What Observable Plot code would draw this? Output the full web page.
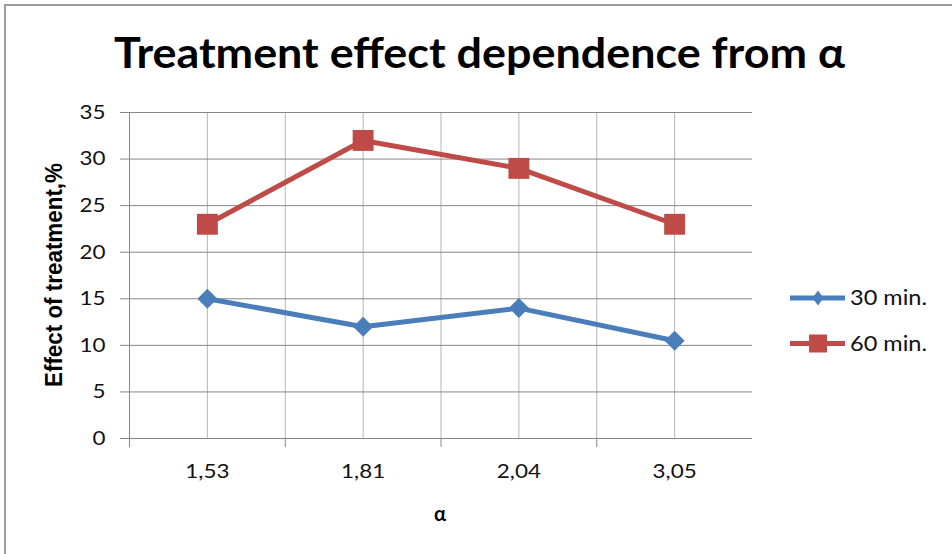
<!DOCTYPE html>
<html>
<head>
<meta charset="utf-8">
<script src="https://cdn.jsdelivr.net/npm/d3@7"></script>
<script src="https://cdn.jsdelivr.net/npm/@observablehq/plot@0.6"></script>
<style>
  body { margin: 0; background: #fff; }
  #chart { position: relative; width: 952px; height: 554px; overflow: hidden; background: #fff; font-family: Lato, "Open Sans", sans-serif; }
  #chart svg { position: absolute; left: 0; top: 0; }
  #frame { position: absolute; left: 4px; top: 4px; right: -4px; bottom: -4px; border-left: 2px solid #9c9c9c; border-top: 2px solid #9c9c9c; }
</style>
</head>
<body>
<div id="chart"><div id="frame"></div></div>
<script>
// Effect of treatment (%) for each value of alpha, at two exposure times
const alphaLabels = ["1,53", "1,81", "2,04", "3,05"];
const seriesNames = ["30 min.", "60 min."];
const effect30 = [15, 12, 14, 10.5];
const effect60 = [23, 32, 29, 23];
const yTicks = [0, 5, 10, 15, 20, 25, 30, 35];
const seriesColors = ["#4A7EBB", "#BE4B48"];

const titleText = "Treatment effect dependence from α";
const yLabelText = "Effect of treatment,%";
const xLabelText = "α";

// categories sit in the middle of equal-width slots on a linear x scale
const centers = alphaLabels.map((_, i) => i + 0.5);
const boundaries = d3.range(0, alphaLabels.length);      // slot edges (tick marks)
const innerEdges = d3.range(1, alphaLabels.length);      // interior slot edges (gridlines)

const rows30 = alphaLabels.map((a, i) => ({pos: centers[i], label: a, value: effect30[i]}));
const rows60 = alphaLabels.map((a, i) => ({pos: centers[i], label: a, value: effect60[i]}));

const chart = Plot.plot({
  width: 952,
  height: 554,
  marginLeft: 129,
  marginRight: 200,
  marginTop: 112,
  marginBottom: 116,
  style: {fontFamily: "Lato, 'Open Sans', sans-serif", fontSize: "20px", color: "#000", background: "transparent"},
  x: {domain: [0, alphaLabels.length], axis: null},
  y: {domain: [0, 35], axis: null},
  marks: [
    // vertical gridlines at category centres and slot edges
    Plot.ruleX(centers, {stroke: "#b5b5b5", strokeWidth: 1}),
    Plot.ruleX(innerEdges, {stroke: "#b5b5b5", strokeWidth: 1}),
    // horizontal gridlines
    Plot.gridY(yTicks, {stroke: "#878787", strokeOpacity: 1, strokeWidth: 1}),
    // value axis line
    Plot.ruleX([0], {stroke: "#878787", strokeWidth: 1}),
    Plot.axisY(yTicks, {tickSize: 9, tickPadding: 15, stroke: "#878787", strokeOpacity: 1, fontSize: 20, fill: "#111", label: null}),
    // category axis: edge ticks, then centred labels
    Plot.axisX(boundaries, {tickSize: 9, tickFormat: () => "", stroke: "#878787", strokeOpacity: 1, label: null}),
    Plot.axisX(centers, {tickSize: 0, tickPadding: 25, tickFormat: (d) => alphaLabels[Math.floor(d)], fontSize: 20, fill: "#111", label: null}),
    // series
    Plot.line(rows30, {x: "pos", y: "value", stroke: seriesColors[0], strokeWidth: 5}),
    Plot.line(rows60, {x: "pos", y: "value", stroke: seriesColors[1], strokeWidth: 5}),
    Plot.dot(rows30, {x: "pos", y: "value", symbol: "diamond2", r: 9, fill: seriesColors[0], stroke: null}),
    Plot.dot(rows60, {x: "pos", y: "value", symbol: "square", r: 11.8, fill: seriesColors[1], stroke: null})
  ]
});
document.getElementById("chart").appendChild(chart);

// widen the tick labels slightly (wide, low glyphs)
d3.select(chart).selectAll("text").each(function () {
  const len = this.getComputedTextLength();
  if (len > 0) {
    this.setAttribute("textLength", (len * 1.12).toFixed(1));
    this.setAttribute("lengthAdjust", "spacingAndGlyphs");
  }
});

// title, axis titles and legend
const svg = d3.select("#chart").append("svg")
  .attr("width", 952).attr("height", 554)
  .style("font-family", "Lato, 'Open Sans', sans-serif");

svg.append("text")
  .attr("x", 114).attr("y", 68)
  .attr("font-size", 42).attr("font-weight", 700)
  .attr("textLength", 731).attr("lengthAdjust", "spacingAndGlyphs")
  .attr("fill", "#000")
  .text(titleText);

svg.append("text")
  .attr("transform", "translate(62,275) rotate(-90)")
  .attr("text-anchor", "middle")
  .attr("font-family", "'Liberation Sans', Arial, sans-serif")
  .attr("font-size", 23).attr("font-weight", 700)
  .attr("textLength", 224).attr("lengthAdjust", "spacingAndGlyphs")
  .attr("fill", "#000")
  .text(yLabelText);

svg.append("text")
  .attr("x", 440).attr("y", 521)
  .attr("text-anchor", "middle")
  .attr("font-size", 20).attr("font-weight", 700)
  .attr("fill", "#000")
  .text(xLabelText);

const legend = svg.append("g");
seriesNames.forEach((name, i) => {
  const cy = 298 + i * 45.5;
  const g = legend.append("g");
  g.append("line").attr("x1", 790).attr("x2", 845).attr("y1", cy).attr("y2", cy)
    .attr("stroke", seriesColors[i]).attr("stroke-width", 5);
  if (i === 0) {
    g.append("path")
      .attr("d", `M818,${cy - 7.5}L823.5,${cy}L818,${cy + 7.5}L812.5,${cy}Z`)
      .attr("fill", seriesColors[i]);
  } else {
    g.append("rect").attr("x", 809).attr("y", cy - 9).attr("width", 18).attr("height", 18)
      .attr("fill", seriesColors[i]);
  }
  g.append("text").attr("x", 850).attr("y", cy).attr("dy", "0.35em")
    .attr("font-size", 21).attr("fill", "#111")
    .attr("textLength", 77).attr("lengthAdjust", "spacingAndGlyphs")
    .text(name);
});
</script>
</body>
</html>
